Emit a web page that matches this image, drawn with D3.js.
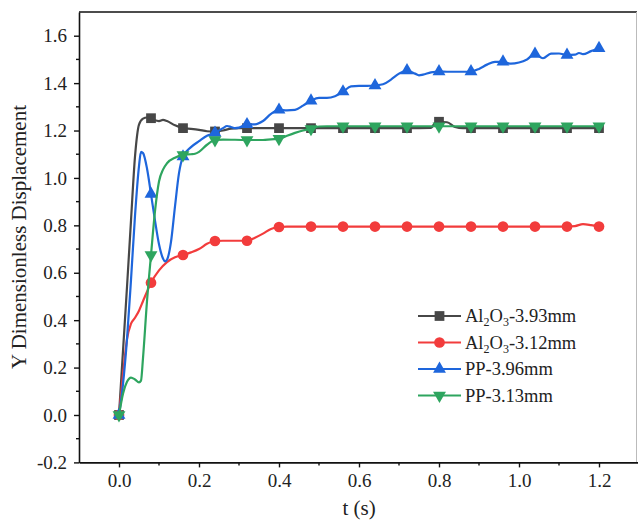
<!DOCTYPE html>
<html>
<head>
<meta charset="utf-8">
<script src="https://cdn.jsdelivr.net/npm/d3@7"></script>
<style>
  html, body { margin: 0; padding: 0; background: #fff; }
  svg { display: block; font-family: "Liberation Serif", "Times New Roman", serif; }
</style>
</head>
<body>
<svg id="chart" width="638" height="520"></svg>
<script>
// Y dimensionless displacement vs time, [t (s), value]
const al2o3_393 = [[0,0],[0.01,0.27],[0.02,0.54],[0.03,0.82],[0.04,1.09],[0.05,1.225],[0.06,1.25],[0.07,1.255],
  [0.08,1.252],[0.09,1.243],[0.10,1.24],[0.11,1.245],[0.12,1.24],[0.14,1.222],[0.16,1.21],[0.18,1.207],[0.20,1.203],
  [0.22,1.197],[0.24,1.196],[0.26,1.2],[0.28,1.208],[0.30,1.21],[0.32,1.21],[0.40,1.21],[0.48,1.21],[0.56,1.21],
  [0.64,1.21],[0.72,1.21],[0.78,1.211],[0.79,1.232],[0.80,1.237],[0.82,1.235],[0.84,1.215],[0.86,1.21],[0.88,1.21],
  [0.96,1.21],[1.04,1.21],[1.12,1.21],[1.20,1.21]];

const al2o3_312 = [[0,0],[0.01,0.17],[0.02,0.32],[0.03,0.385],[0.04,0.41],[0.05,0.44],[0.06,0.48],[0.07,0.52],
  [0.08,0.558],[0.10,0.61],[0.12,0.645],[0.14,0.665],[0.16,0.675],[0.18,0.686],[0.20,0.70],[0.22,0.722],[0.24,0.734],
  [0.26,0.735],[0.32,0.735],[0.34,0.748],[0.36,0.765],[0.38,0.785],[0.40,0.793],[0.42,0.795],[0.48,0.795],[0.56,0.795],
  [0.64,0.795],[0.72,0.795],[0.80,0.795],[0.88,0.795],[0.96,0.795],[1.04,0.795],[1.12,0.795],[1.14,0.797],[1.16,0.805],
  [1.18,0.801],[1.20,0.795]];

const pp_396 = [[0,0],[0.01,0.13],[0.02,0.32],[0.03,0.57],[0.04,0.84],[0.05,1.05],[0.055,1.11],[0.06,1.105],[0.07,1.04],
  [0.08,0.932],[0.09,0.82],[0.10,0.72],[0.11,0.66],[0.115,0.648],[0.12,0.655],[0.13,0.73],[0.14,0.88],[0.15,1.02],
  [0.16,1.09],[0.18,1.13],[0.20,1.155],[0.22,1.178],[0.24,1.19],[0.26,1.21],[0.27,1.219],[0.28,1.215],[0.29,1.21],
  [0.30,1.212],[0.32,1.226],[0.34,1.226],[0.36,1.24],[0.38,1.27],[0.40,1.287],[0.42,1.285],[0.44,1.287],[0.46,1.305],
  [0.48,1.326],[0.50,1.338],[0.52,1.338],[0.54,1.345],[0.56,1.364],[0.58,1.386],[0.60,1.388],[0.62,1.388],[0.64,1.39],
  [0.66,1.395],[0.68,1.415],[0.70,1.44],[0.72,1.453],[0.74,1.44],[0.75,1.433],[0.76,1.436],[0.78,1.445],[0.80,1.449],
  [0.82,1.448],[0.84,1.448],[0.86,1.448],[0.88,1.449],[0.90,1.46],[0.92,1.478],[0.94,1.49],[0.96,1.49],[0.98,1.482],
  [1.00,1.487],[1.02,1.5],[1.04,1.523],[1.06,1.505],[1.08,1.524],[1.10,1.525],[1.12,1.519],[1.14,1.52],[1.15,1.527],
  [1.16,1.522],[1.18,1.535],[1.20,1.547]];

const pp_313 = [[0,0],[0.01,0.09],[0.02,0.14],[0.03,0.158],[0.04,0.15],[0.05,0.138],[0.055,0.145],[0.06,0.24],
  [0.07,0.48],[0.08,0.675],[0.09,0.86],[0.10,0.985],[0.11,1.035],[0.12,1.062],[0.14,1.085],[0.16,1.097],[0.18,1.10],
  [0.19,1.102],[0.20,1.11],[0.22,1.14],[0.24,1.16],[0.26,1.162],[0.32,1.16],[0.36,1.16],[0.38,1.163],[0.40,1.165],
  [0.42,1.178],[0.44,1.19],[0.46,1.2],[0.48,1.207],[0.50,1.217],[0.52,1.218],[0.56,1.218],[0.64,1.218],[0.72,1.218],
  [0.80,1.218],[0.88,1.218],[0.96,1.218],[1.04,1.218],[1.12,1.218],[1.20,1.218]];

// Times at which a symbol is drawn on every curve
const markerTimes = [0,0.08,0.16,0.24,0.32,0.40,0.48,0.56,0.64,0.72,0.80,0.88,0.96,1.04,1.12,1.20];

const seriesLabels = [
  ["Al", "2", "O", "3", "-3.93mm"],
  ["Al", "2", "O", "3", "-3.12mm"],
  ["PP-3.96mm"],
  ["PP-3.13mm"]
];
const seriesData = [al2o3_393, al2o3_312, pp_396, pp_313];
const seriesColors = ["#474747", "#f23c3c", "#1e66dc", "#2ea55f"];
const seriesSymbols = ["square", "circle", "up", "down"];

const xTicks = [0.0, 0.2, 0.4, 0.6, 0.8, 1.0, 1.2];
const xMinor = [0.1, 0.3, 0.5, 0.7, 0.9, 1.1];
const yTicks = [-0.2, 0.0, 0.2, 0.4, 0.6, 0.8, 1.0, 1.2, 1.4, 1.6];
const yMinor = [-0.1, 0.1, 0.3, 0.5, 0.7, 0.9, 1.1, 1.3, 1.5];

const svg = d3.select("#chart");
const plotL = 79, plotT = 12, plotR = 636.5, plotB = 462.4;

const x = d3.scaleLinear().domain([-0.1, 1.3]).range([plotL, 639]);
const y = d3.scaleLinear().domain([-0.2, 1.7]).range([plotB, plotT]);

svg.append("rect").attr("width", 638).attr("height", 520).attr("fill", "#fff");

// frame: top and right edges
svg.append("line").attr("x1", plotL).attr("x2", 637).attr("y1", plotT).attr("y2", plotT)
  .attr("stroke", "#111").attr("stroke-width", 1.6);
svg.append("line").attr("x1", plotR).attr("x2", plotR).attr("y1", plotT).attr("y2", plotB)
  .attr("stroke", "#bbb").attr("stroke-width", 1);

// plain hyphen for negatives
const fmt = d => d.toFixed(1);

// bottom axis
const gx = svg.append("g").attr("transform", `translate(0,${plotB})`)
  .call(d3.axisBottom(x).tickValues(xTicks).tickFormat(fmt).tickSize(5).tickSizeOuter(0).tickPadding(6));
gx.append("g").selectAll("line").data(xMinor).join("line")
  .attr("x1", d => x(d)).attr("x2", d => x(d)).attr("y1", 0).attr("y2", 3)
  .attr("stroke", "#111").attr("stroke-width", 1.4);

// left axis
const gy = svg.append("g").attr("transform", `translate(${plotL},0)`)
  .call(d3.axisLeft(y).tickValues(yTicks).tickFormat(fmt).tickSize(5).tickSizeOuter(0).tickPadding(7));
gy.append("g").selectAll("line").data(yMinor).join("line")
  .attr("y1", d => y(d)).attr("y2", d => y(d)).attr("x1", 0).attr("x2", -3)
  .attr("stroke", "#111").attr("stroke-width", 1.4);

[gx, gy].forEach(g => {
  g.select(".domain").attr("stroke", "#111").attr("stroke-width", 1.6);
  g.selectAll(".tick line").attr("stroke", "#111").attr("stroke-width", 1.4);
  g.selectAll(".tick text").attr("fill", "#222").attr("font-size", 19)
    .attr("font-family", "'Liberation Serif', 'Times New Roman', serif");
});

// axis titles
svg.append("text").attr("x", x(0.6)).attr("y", 515).attr("text-anchor", "middle")
  .attr("font-size", 21).attr("fill", "#222").text("t (s)");
svg.append("text").attr("transform", "translate(26,237) rotate(-90)").attr("text-anchor", "middle")
  .attr("font-size", 21).attr("fill", "#222").text("Y Dimensionless Displacement");

function symbolPath(kind) {
  if (kind === "square") return d3.symbol(d3.symbolSquare, 95)();
  if (kind === "circle") return d3.symbol(d3.symbolCircle, 90)();
  return d3.symbol(d3.symbolTriangle, 72)();
}
function symbolTransform(kind, px, py) {
  return kind === "down" ? `translate(${px},${py}) rotate(180)` : `translate(${px},${py})`;
}

const line = d3.line().x(d => x(d[0])).y(d => y(d[1])).curve(d3.curveMonotoneX);
const plot = svg.append("g");

seriesData.forEach((data, i) => {
  const g = plot.append("g");
  g.append("path").datum(data).attr("d", line)
    .attr("fill", "none").attr("stroke", seriesColors[i]).attr("stroke-width", 2.2)
    .attr("stroke-linejoin", "round");
  const pts = markerTimes.map(t => data.find(d => Math.abs(d[0] - t) < 1e-9)).filter(Boolean);
  g.selectAll("path.m").data(pts).join("path").attr("class", "m")
    .attr("d", symbolPath(seriesSymbols[i]))
    .attr("transform", d => symbolTransform(seriesSymbols[i], x(d[0]), y(d[1])))
    .attr("fill", seriesColors[i]);
});

// legend
const lg = svg.append("g");
seriesLabels.forEach((parts, i) => {
  const cy = 316 + i * 26.5;
  lg.append("line").attr("x1", 418).attr("x2", 461).attr("y1", cy).attr("y2", cy)
    .attr("stroke", seriesColors[i]).attr("stroke-width", 2.2);
  lg.append("path").attr("d", symbolPath(seriesSymbols[i]))
    .attr("transform", symbolTransform(seriesSymbols[i], 439.5, cy)).attr("fill", seriesColors[i]);
  const t = lg.append("text").attr("x", 465).attr("y", cy + 6).attr("font-size", 18.5).attr("fill", "#222");
  if (parts.length === 1) {
    t.text(parts[0]);
  } else {
    t.append("tspan").text(parts[0]);
    t.append("tspan").attr("font-size", 12).attr("dy", 4).text(parts[1]);
    t.append("tspan").attr("dy", -4).text(parts[2]);
    t.append("tspan").attr("font-size", 12).attr("dy", 4).text(parts[3]);
    t.append("tspan").attr("dy", -4).text(parts[4]);
  }
});
</script>
</body>
</html>
